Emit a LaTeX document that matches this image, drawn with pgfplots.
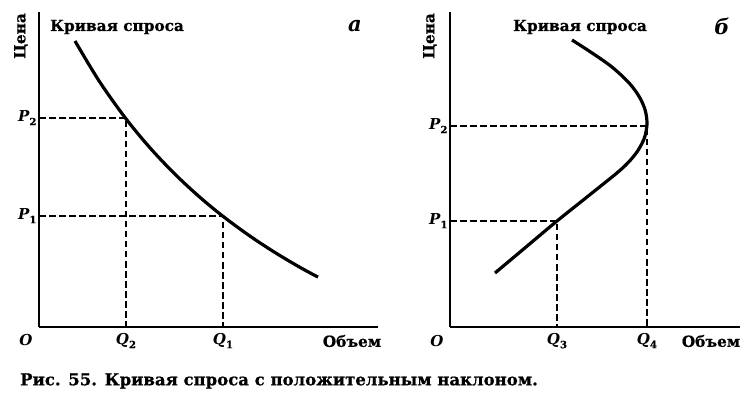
\documentclass[border=0pt]{standalone}
\usepackage{fontspec}
\setmainfont{DejaVu Serif}[BoldFeatures={FakeBold=0.6}]
\usepackage{pgfplots}
\pgfplotsset{compat=1.18}
\newcommand\lab[2]{{\bfseries\itshape #1}\raisebox{-0.45ex}{\fontsize{10}{10}\selectfont\bfseries #2}}
\newcommand\lbl{\fontsize{15.3}{18}\selectfont\bfseries}
\begin{document}
\begin{tikzpicture}
\useasboundingbox (0pt,0pt) rectangle (754pt,-411pt);
\pgfplotsset{
  panel/.style={
    scale only axis, clip=false,
    axis lines=left,
    axis line style={line width=2.6pt, -},
    xmin=0, ymin=0, ymax=315,
    major tick length=0pt,
    tick label style={font=\fontsize{15}{17}\selectfont},
    xticklabel style={yshift=-3pt},
    yticklabel style={xshift=1pt},
    anchor=south west,
  },
  curve/.style={line width=3.2pt, black, smooth, tension=0.55},
  guide/.style={line width=1.6pt, black, dash pattern=on 6.5pt off 3.5pt},
}
% left panel (a)
\begin{axis}[panel, at={(39pt,-327pt)}, width=339pt, height=315pt, xmax=339,
  xtick={87,184}, xticklabels={\lab{Q}{2},\lab{Q}{1}},
  ytick={111,209}, yticklabels={\lab{P}{1},\lab{P}{2}}]
\addplot[guide] coordinates {(0,209)(87,209)(87,0)};
\addplot[guide] coordinates {(0,111)(184,111)(184,0)};
\addplot[curve] coordinates {(36,286.0)(60,246.2)(86,209.5)(110,180.3)(135,153.8)(160,130.5)(184,110.7)(210,91.6)(235,75.1)(260,60.2)(279,49.9)};
\node[rotate=90, font=\lbl] at (axis cs:-18,291) {Цена};
\node[font=\lbl] at (axis cs:78,300) {Кривая спроса};
\node[font=\fontsize{21}{23}\selectfont\bfseries\itshape] at (axis cs:316,301) {а};
\node[font=\fontsize{15}{17}\selectfont\bfseries\itshape] at (axis cs:-13,-13) {O};
\node[font=\lbl] at (axis cs:313,-14) {Объем};
\end{axis}
% right panel (b)
\begin{axis}[panel, at={(450pt,-327pt)}, width=290pt, height=315pt, xmax=290,
  xtick={107,197}, xticklabels={\lab{Q}{3},\lab{Q}{4}},
  ytick={106,201}, yticklabels={\lab{P}{1},\lab{P}{2}}]
\addplot[guide] coordinates {(0,201)(197,201)(197,0)};
\addplot[guide] coordinates {(0,106)(107,106)(107,0)};
\addplot[curve] coordinates {(122,287)(142.1,274)(161.9,260)(179.1,244)(189.4,230)(195.1,217)(197,204)(195.3,192)(192.2,184)(187.6,176)(181.4,168)(173.7,160)(164.5,152)(149.5,140)(134.5,128)(107,106)(76,80)(45,54)};
\node[rotate=90, font=\lbl] at (axis cs:-20,291) {Цена};
\node[font=\lbl] at (axis cs:130,300) {Кривая спроса};
\node[font=\fontsize{21}{23}\selectfont\bfseries\itshape] at (axis cs:272,301) {б};
\node[font=\fontsize{15}{17}\selectfont\bfseries\itshape] at (axis cs:-13,-14) {O};
\node[font=\lbl] at (axis cs:261,-14) {Объем};
\end{axis}
\node[anchor=west, inner sep=0pt, font=\fontsize{16.5}{19}\selectfont\bfseries] at (20pt,-381pt) {Рис. 55. Кривая спроса с положительным наклоном.};
\end{tikzpicture}
\end{document}
